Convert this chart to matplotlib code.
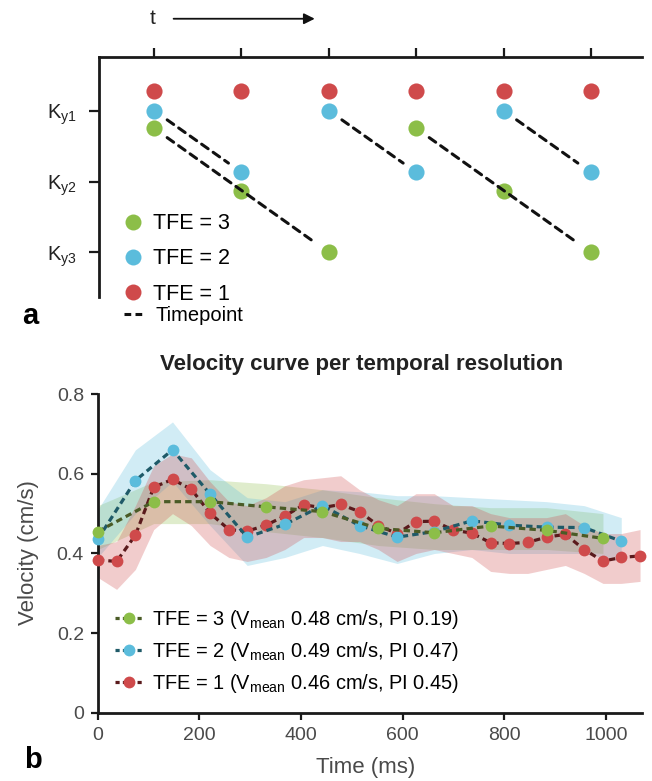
import matplotlib
matplotlib.use("Agg")
import matplotlib.pyplot as plt
from matplotlib.lines import Line2D

plt.rcParams['font.family'] = ['Liberation Sans', 'DejaVu Sans']
plt.rcParams['mathtext.fontset'] = 'custom'
plt.rcParams['mathtext.rm'] = 'Liberation Sans'
plt.rcParams['mathtext.it'] = 'Liberation Sans:italic'

# ---- panel a: sampling scheme ----
timepoints = [0, 1, 2, 3, 4, 5]
ky_labels = ['K$_{\\mathrm{y1}}$', 'K$_{\\mathrm{y2}}$', 'K$_{\\mathrm{y3}}$']
ky_tfe1 = [1, 1, 1, 1, 1, 1]
ky_tfe2 = [1, 2, 1, 2, 1, 2]
ky_tfe3 = [1, 2, 3, 1, 2, 3]

# ---- panel b: velocity curves ----
t_tfe1 = [0, 37, 74, 110, 147, 184, 221, 258, 294, 331, 368, 405, 442, 478, 515,
          552, 589, 626, 662, 699, 736, 773, 810, 846, 883, 920, 957, 994, 1030, 1067]
v_tfe1 = [0.384, 0.380, 0.446, 0.566, 0.586, 0.561, 0.501, 0.460, 0.456, 0.471,
          0.494, 0.522, 0.515, 0.523, 0.505, 0.470, 0.450, 0.480, 0.481, 0.459,
          0.451, 0.427, 0.425, 0.428, 0.441, 0.448, 0.410, 0.381, 0.390, 0.394]
hi_tfe1 = [0.42, 0.43, 0.52, 0.62, 0.65, 0.64, 0.58, 0.53, 0.52, 0.54,
           0.57, 0.585, 0.59, 0.595, 0.56, 0.535, 0.52, 0.55, 0.55, 0.52,
           0.52, 0.50, 0.49, 0.49, 0.49, 0.50, 0.47, 0.45, 0.45, 0.46]
lo_tfe1 = [0.34, 0.31, 0.36, 0.46, 0.50, 0.47, 0.42, 0.39, 0.38, 0.39,
           0.41, 0.44, 0.44, 0.43, 0.43, 0.41, 0.38, 0.40, 0.41, 0.40,
           0.39, 0.355, 0.35, 0.35, 0.36, 0.37, 0.35, 0.325, 0.325, 0.33]

t_tfe2 = [0, 74, 147, 221, 294, 368, 442, 515, 589, 662, 736, 810, 883, 957, 1030]
v_tfe2 = [0.436, 0.583, 0.660, 0.549, 0.441, 0.473, 0.520, 0.470, 0.441, 0.455,
          0.482, 0.471, 0.466, 0.465, 0.431]
hi_tfe2 = [0.51, 0.66, 0.73, 0.61, 0.54, 0.53, 0.56, 0.555, 0.545, 0.545,
           0.54, 0.535, 0.53, 0.52, 0.49]
lo_tfe2 = [0.39, 0.50, 0.58, 0.47, 0.37, 0.39, 0.42, 0.40, 0.375, 0.40,
           0.41, 0.40, 0.40, 0.40, 0.38]

t_tfe3 = [0, 110, 221, 331, 442, 552, 662, 773, 883, 994]
v_tfe3 = [0.455, 0.530, 0.530, 0.517, 0.505, 0.463, 0.452, 0.469, 0.458, 0.438]
hi_tfe3 = [0.52, 0.58, 0.585, 0.575, 0.56, 0.54, 0.525, 0.515, 0.515, 0.50]
lo_tfe3 = [0.41, 0.475, 0.475, 0.455, 0.44, 0.42, 0.41, 0.41, 0.41, 0.40]

legend_b = ['TFE = 3 (V$_{\\mathrm{mean}}$ 0.48 cm/s, PI 0.19)',
            'TFE = 2 (V$_{\\mathrm{mean}}$ 0.49 cm/s, PI 0.47)',
            'TFE = 1 (V$_{\\mathrm{mean}}$ 0.46 cm/s, PI 0.45)']

# colours
c_green, c_blue, c_red = '#8cbe48', '#5bbcdc', '#cf4a4b'
l_green, l_blue, l_red = '#4a5b26', '#1f5a68', '#5a1a1c'
grey = '#4a4a4a'


def draw_scheme(ax):
    # small vertical nudges so the dots of one Ky line do not sit on each other
    nudge = {1: {1: -0.28}, 2: {1: 0.0, 2: -0.13}, 3: {1: 0.25, 2: 0.14, 3: 0.0}}
    series = [(1, ky_tfe1, c_red), (2, ky_tfe2, c_blue), (3, ky_tfe3, c_green)]
    for tfe, ky, col in series:
        ys = [k + nudge[tfe][k] for k in ky]
        ax.scatter(timepoints, ys, s=135, color=col, linewidths=0, zorder=3)
        if tfe > 1:
            # one timepoint = tfe consecutive shots
            for start in range(0, len(timepoints), tfe):
                a, b = start, start + tfe - 1
                ax.annotate('', xy=(timepoints[b], ys[b]), xytext=(timepoints[a], ys[a]),
                            arrowprops=dict(arrowstyle='-', color='#111111', lw=2.2,
                                            linestyle=(0, (2.6, 2.0)),
                                            shrinkA=11.5, shrinkB=11.5))

    ax.set_xlim(-0.63, 5.58)
    ax.set_ylim(3.63, 0.243)
    for s in ['right', 'bottom']:
        ax.spines[s].set_visible(False)
    for s in ['top', 'left']:
        ax.spines[s].set_linewidth(2.0)
        ax.spines[s].set_color('#1a1a1a')
    ax.xaxis.tick_top()
    ax.set_xticks(timepoints)
    ax.set_xticklabels([])
    ax.tick_params(axis='x', direction='out', length=6.5, width=1.6, color='#1a1a1a')
    ax.set_yticks([1, 2, 3])
    ax.set_yticklabels(ky_labels, fontsize=14.5, color='#222222')
    ax.tick_params(axis='y', direction='out', length=7, width=1.6, color='#1a1a1a', pad=9)

    h1 = [Line2D([], [], ls='none', marker='o', ms=11.5, mec='none', color=c)
          for c in (c_green, c_blue, c_red)]
    leg1 = ax.legend(h1, ['TFE = 3', 'TFE = 2', 'TFE = 1'], loc='upper left',
                     bbox_to_anchor=(0.189, 0.727), bbox_transform=ax.figure.transFigure,
                     frameon=False, fontsize=15.5, handlelength=0.95, handletextpad=0.42,
                     labelspacing=0.66, borderpad=0, borderaxespad=0)
    ax.add_artist(leg1)
    h2 = [Line2D([], [], ls=(0, (2.2, 1.4)), lw=2.2, color='#111111')]
    ax.legend(h2, ['Timepoint'], loc='upper left',
              bbox_to_anchor=(0.19, 0.608), bbox_transform=ax.figure.transFigure,
              frameon=False, fontsize=14.5, handlelength=1.1, handletextpad=0.45,
              borderpad=0, borderaxespad=0)


def draw_velocity(ax):
    bands = [(t_tfe3, hi_tfe3, lo_tfe3, c_green),
             (t_tfe2, hi_tfe2, lo_tfe2, c_blue),
             (t_tfe1, hi_tfe1, lo_tfe1, c_red)]
    for t, hi, lo, col in bands:
        ax.fill_between(t, lo, hi, color=col, alpha=0.28, linewidth=0, zorder=1)

    curves = [(t_tfe1, v_tfe1, l_red, c_red, 3),
              (t_tfe2, v_tfe2, l_blue, c_blue, 4),
              (t_tfe3, v_tfe3, l_green, c_green, 5)]
    for t, v, lc, mc, z in curves:
        ax.plot(t, v, color=lc, lw=2.3, dashes=(2.0, 1.3), marker='o', ms=8.5,
                mfc=mc, mec='none', zorder=z, clip_on=False)

    ax.set_xlim(0, 1070)
    ax.set_ylim(0, 0.8)
    ax.set_xticks([0, 200, 400, 600, 800, 1000])
    ax.set_yticks([0, 0.2, 0.4, 0.6, 0.8])
    ax.set_yticklabels(['0', '0.2', '0.4', '0.6', '0.8'])
    for s in ['right', 'top']:
        ax.spines[s].set_visible(False)
    for s in ['left', 'bottom']:
        ax.spines[s].set_linewidth(2.0)
        ax.spines[s].set_color('#1a1a1a')
    ax.tick_params(direction='out', length=5, width=1.6, color='#1a1a1a',
                   labelsize=14, labelcolor=grey, pad=5)

    lh = [Line2D([], [], color=l, lw=2.3, dashes=(1.3, 1.0), marker='o', ms=8.5,
                 mfc=m, mec='none') for l, m in ((l_green, c_green), (l_blue, c_blue), (l_red, c_red))]
    ax.legend(lh, legend_b, loc='upper left', bbox_to_anchor=(0.176, 0.221),
              bbox_transform=ax.figure.transFigure, frameon=False, fontsize=14.4,
              handlelength=1.45, handletextpad=0.42, labelspacing=0.43,
              borderpad=0, borderaxespad=0)


fig = plt.figure(figsize=(6.52, 7.81), dpi=100)
ax_a = fig.add_axes([0.152, 0.6197, 0.832, 0.3073])
ax_b = fig.add_axes([0.150, 0.0871, 0.834, 0.4084])

draw_scheme(ax_a)
draw_velocity(ax_b)

# time arrow above the scheme
fig.text(0.234, 0.976, 't', fontsize=15, ha='center', va='center', color='#222222')
fig.add_artist(matplotlib.patches.FancyArrowPatch((0.262, 0.976), (0.487, 0.976),
                                                  transform=fig.transFigure, arrowstyle='-|>',
                                                  mutation_scale=16, lw=1.3, color='#111111'))

fig.text(0.554, 0.533, 'Velocity curve per temporal resolution', fontsize=16,
         fontweight='bold', ha='center', va='center', color='#222222')
fig.text(0.043, 0.292, 'Velocity (cm/s)', fontsize=16, rotation=90, ha='center',
         va='center', color=grey)
fig.text(0.561, 0.017, 'Time (ms)', fontsize=16, ha='center', va='center', color=grey)
fig.text(0.047, 0.595, 'a', fontsize=21, fontweight='bold', ha='center', va='center')
fig.text(0.051, 0.027, 'b', fontsize=21, fontweight='bold', ha='center', va='center')

fig.savefig('out.png', dpi=100)
